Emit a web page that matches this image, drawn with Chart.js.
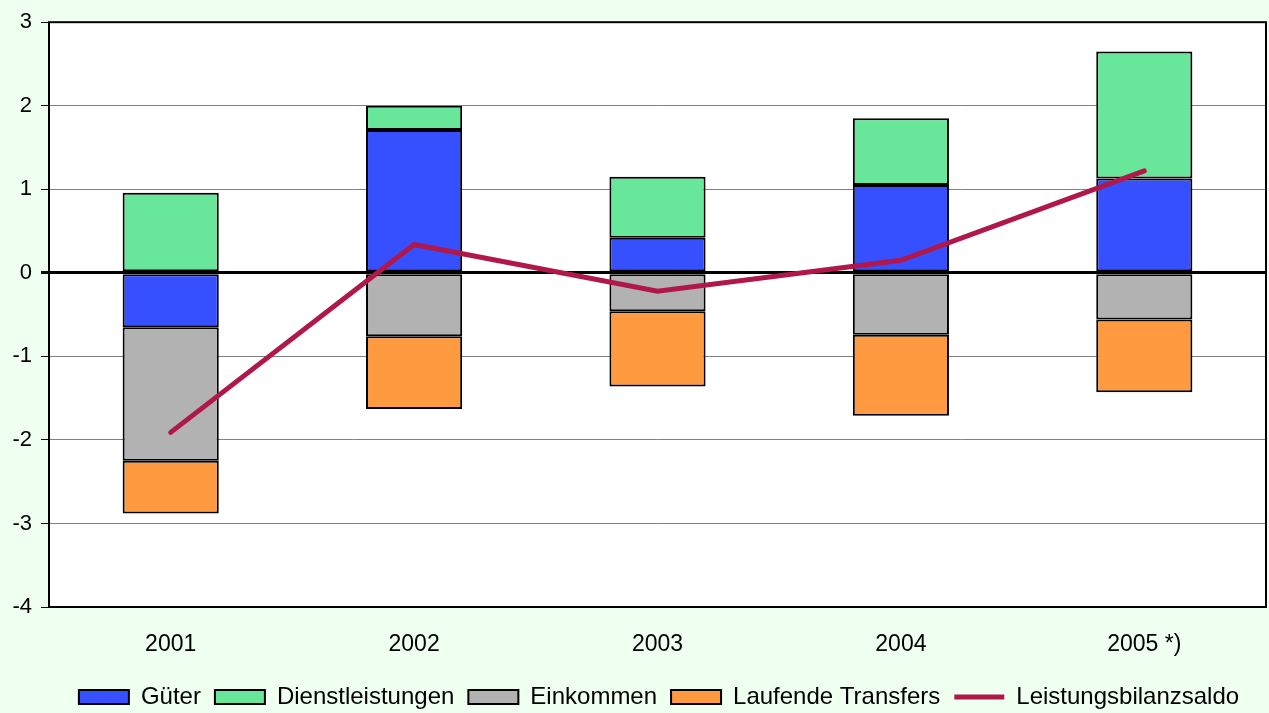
<!DOCTYPE html>
<html>
<head>
<meta charset="utf-8">
<script src="https://cdn.jsdelivr.net/npm/chart.js@4"></script>
<style>
  html, body { margin: 0; padding: 0; background: #effff0; }
  #wrap { width: 1269px; height: 713px; }
</style>
</head>
<body>
<div id="wrap"><canvas id="chart"></canvas></div>
<script>
// Daten (Anteile am BIP, %)
const years = ['2001', '2002', '2003', '2004', '2005 *)'];
const gueter = [-0.65, 1.71, 0.42, 1.05, 1.13];
const dienstleistungen = [0.96, 0.29, 0.73, 0.80, 1.52];
const einkommen = [-1.60, -0.76, -0.46, -0.74, -0.56];
const transfers = [-0.63, -0.87, -0.90, -0.97, -0.87];
const saldo = [-1.91, 0.34, -0.22, 0.15, 1.22];
const yTicks = [-4, -3, -2, -1, 0, 1, 2, 3];

const FONT = "'Liberation Sans', Arial, sans-serif";

// weisse Zeichenfläche + Rahmen, feste Legendenhöhe
const plotArea = {
    id: 'plotArea',
    beforeUpdate(chart) {
        const lg = chart.legend;
        if (lg && !lg._patched) {
            const fit = lg.fit;
            const draw = lg.draw;
            lg.fit = function () { fit.call(this); this.height = 42; };
            lg.draw = function () {
                const ctx = this.ctx;
                ctx.save();
                ctx.translate(26, 0); // Legende etwas nach rechts wie im Original
                draw.apply(this, arguments);
                ctx.restore();
            };
            lg._patched = true;
        }
    },
    beforeDraw(chart) {
        const { ctx, chartArea: a } = chart;
        ctx.save();
        ctx.fillStyle = '#ffffff';
        ctx.fillRect(a.left, a.top, a.right - a.left, a.bottom - a.top);
        ctx.restore();
    },
    afterDatasetsDraw(chart) {
        const { ctx, chartArea: a } = chart;
        ctx.save();
        ctx.strokeStyle = '#000000';
        ctx.lineWidth = 2;
        ctx.strokeRect(a.left, a.top, a.right - a.left, a.bottom - a.top);
        ctx.restore();
    }
};

const barStyle = (label, data, color) => ({
    type: 'bar',
    label: label,
    data: data,
    backgroundColor: color,
    borderColor: '#000000',
    borderWidth: 2,
    borderSkipped: false,
    stack: 'bars',
    order: 1,
    pointStyle: 'rect'
});

new Chart(document.getElementById('chart'), {
    data: {
        labels: years,
        datasets: [
            barStyle('Güter', gueter, '#3650ff'),
            barStyle('Dienstleistungen', dienstleistungen, '#68e79b'),
            barStyle('Einkommen', einkommen, '#b2b2b2'),
            barStyle('Laufende Transfers', transfers, '#ff9a40'),
            {
                type: 'line',
                label: 'Leistungsbilanzsaldo',
                data: saldo,
                borderColor: '#b0184c',
                backgroundColor: '#b0184c',
                borderWidth: 5,
                borderCapStyle: 'round',
                borderJoinStyle: 'miter',
                pointRadius: 0,
                pointStyle: 'line',
                tension: 0,
                stack: 'saldo',
                order: 0
            }
        ]
    },
    options: {
        responsive: true,
        maintainAspectRatio: false,
        animation: false,
        layout: { padding: { top: 20, right: 3, left: 0, bottom: 0 } },
        datasets: {
            bar: { barPercentage: 0.395, categoryPercentage: 1 }
        },
        scales: {
            x: {
                stacked: true,
                grid: { display: false },
                border: { display: false },
                afterFit: (axis) => { axis.height = 64; },
                ticks: { color: '#000', font: { family: FONT, size: 23 }, padding: 16 }
            },
            y: {
                stacked: true,
                min: -4,
                max: 3,
                afterBuildTicks: (axis) => { axis.ticks = yTicks.map(v => ({ value: v })); },
                afterFit: (axis) => { axis.width = 49; },
                border: { display: false },
                grid: {
                    color: (c) => c.tick && c.tick.value === 0 ? '#000000' : '#808080',
                    lineWidth: (c) => c.tick && c.tick.value === 0 ? 3 : 1,
                    tickColor: '#000000',
                    tickLength: 8
                },
                ticks: { color: '#000', font: { family: FONT, size: 22 }, padding: 9 }
            }
        },
        plugins: {
            legend: {
                position: 'bottom',
                labels: {
                    color: '#000',
                    font: { family: FONT, size: 24 },
                    usePointStyle: true,
                    pointStyleWidth: 50,
                    boxWidth: 50,
                    boxHeight: 14,
                    padding: 14,
                    sort: (a, b) => a.datasetIndex - b.datasetIndex
                }
            },
            tooltip: { enabled: false }
        }
    },
    plugins: [plotArea]
});
</script>
</body>
</html>
